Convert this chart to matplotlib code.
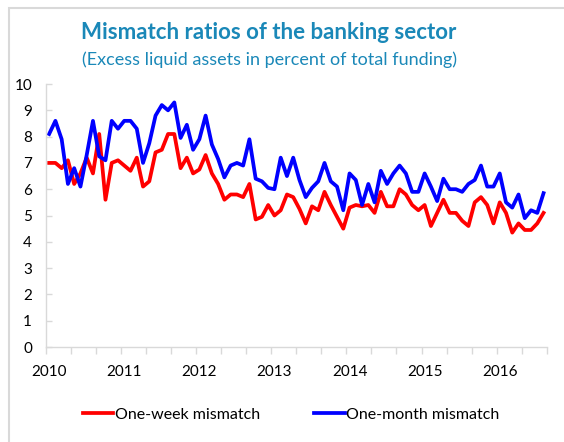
import matplotlib.pyplot as plt
from matplotlib.patches import Rectangle

# Monthly values, Jan 2010 - Aug 2016
one_week = [7.0, 7.0, 6.8, 7.1, 6.2, 6.6, 7.2, 6.6, 8.1, 5.6,
            7.0, 7.1, 6.9, 6.7, 7.2, 6.1, 6.3, 7.4, 7.5, 8.1,
            8.1, 6.8, 7.2, 6.6, 6.75, 7.3, 6.6, 6.2, 5.6, 5.8,
            5.8, 5.7, 6.2, 4.85, 4.95, 5.4, 5.0, 5.2, 5.8, 5.7,
            5.25, 4.7, 5.35, 5.2, 5.9, 5.4, 4.95, 4.5, 5.3, 5.4,
            5.35, 5.4, 5.1, 5.9, 5.35, 5.35, 6.0, 5.8, 5.4, 5.2,
            5.4, 4.6, 5.1, 5.6, 5.1, 5.1, 4.8, 4.6, 5.5, 5.7,
            5.4, 4.7, 5.5, 5.1, 4.35, 4.7, 4.45, 4.45, 4.7, 5.1]
one_month = [8.1, 8.6, 7.9, 6.2, 6.8, 6.1, 7.3, 8.6, 7.25, 7.1,
             8.6, 8.3, 8.6, 8.6, 8.3, 7.0, 7.75, 8.8, 9.2, 9.0,
             9.3, 7.95, 8.45, 7.5, 7.9, 8.8, 7.7, 7.15, 6.45, 6.9,
             7.0, 6.9, 7.9, 6.4, 6.3, 6.05, 6.0, 7.2, 6.5, 7.2,
             6.35, 5.7, 6.05, 6.3, 7.0, 6.3, 6.1, 5.2, 6.6, 6.35,
             5.4, 6.2, 5.5, 6.7, 6.2, 6.6, 6.9, 6.6, 5.9, 5.9,
             6.6, 6.1, 5.55, 6.4, 6.0, 6.0, 5.9, 6.2, 6.35, 6.9,
             6.1, 6.1, 6.6, 5.5, 5.3, 5.8, 4.9, 5.2, 5.1, 5.85]
years = ["2010", "2011", "2012", "2013", "2014", "2015", "2016"]

plt.rcParams['font.family'] = ['Lato', 'DejaVu Sans']
teal = '#1a88b8'
grey = '#d9d9d9'

fig = plt.figure(figsize=(5.64, 4.42), dpi=100)
ax = fig.add_axes([0.0816, 0.2149, 0.8877, 0.595])

x = list(range(len(one_week)))
ax.plot(x, one_week, color='#ff0000', lw=2.7, label='One-week mismatch')
ax.plot(x, one_month, color='#0000ff', lw=2.7, label='One-month mismatch')

ax.set_xlim(-0.5, len(x) - 0.5)
ax.set_ylim(0, 10)
ax.set_yticks(range(0, 11))

# year labels on January, tick marks every four months
ax.set_xticks([12 * k for k in range(len(years))])
ax.set_xticklabels(years)
ax.set_xticks([4 * k - 0.5 for k in range(21)], minor=True)
ax.tick_params(axis='x', which='major', length=0, pad=13, labelsize=11)
ax.tick_params(axis='x', which='minor', length=5, color=grey, width=1)
ax.tick_params(axis='y', direction='in', length=4, color=grey, width=1,
               pad=10, labelsize=11)

for s in ['top', 'right']:
    ax.spines[s].set_visible(False)
for s in ['left', 'bottom']:
    ax.spines[s].set_color(grey)
    ax.spines[s].set_linewidth(1)

fig.text(0.477, 0.927, "Mismatch ratios of the banking sector", color=teal,
         fontsize=16, fontweight='bold', ha='center', va='center')
fig.text(0.477, 0.864, "(Excess liquid assets in percent of total funding)",
         color=teal, fontsize=13, ha='center', va='center')

ax.legend(loc='center', bbox_to_anchor=(0.49, -0.258), ncol=2, frameon=False,
          fontsize=11.5, handlelength=1.9, handletextpad=0.1, columnspacing=3.4)

# outer frame
fig.patches.append(Rectangle((9 / 564, -0.1), 1.1, 1.1 - 8 / 442,
                             transform=fig.transFigure, fill=False,
                             edgecolor=grey, lw=1.5))

fig.savefig('out.png', dpi=100)
